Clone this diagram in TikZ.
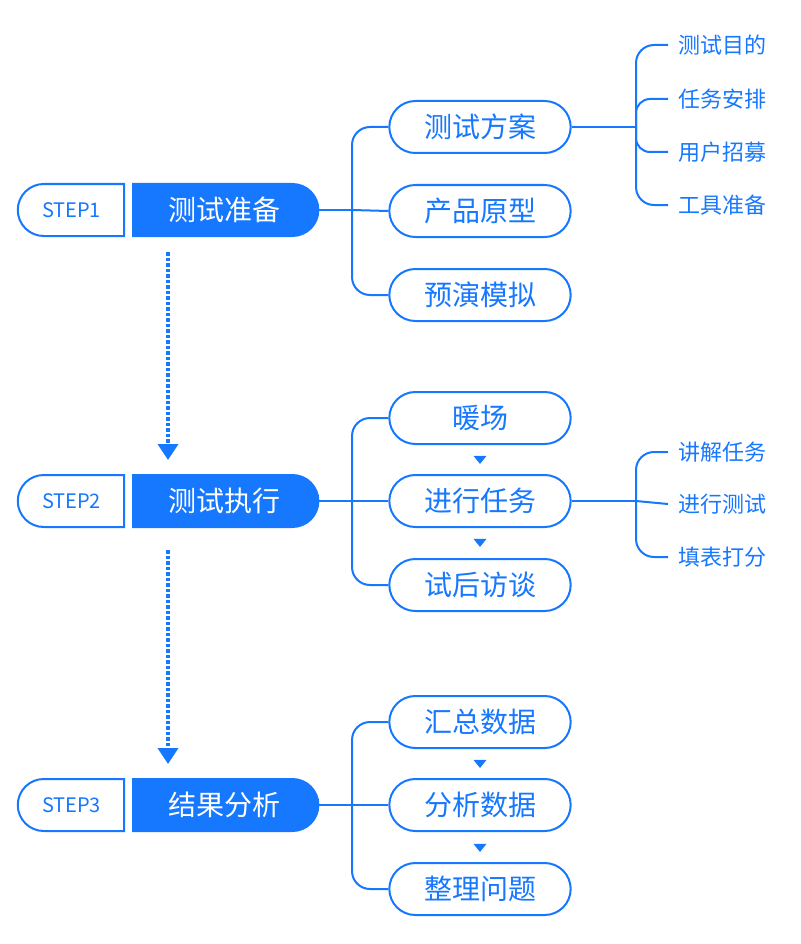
\documentclass[tikz,border=0pt]{standalone}
\usepackage{fontspec}
\setmainfont{Noto Sans CJK SC}
\usetikzlibrary{shapes.misc,shapes.geometric,arrows.meta,positioning}
\definecolor{mainblue}{RGB}{22,119,255}
\tikzset{
    step-tag/.style={
        rounded rectangle, rounded rectangle right arc=none,
        draw=mainblue, fill=white, line width=2pt,
        minimum width=113pt, minimum height=52pt,
        text=mainblue, font=\fontsize{20}{20}\selectfont
    },
    step-title/.style={
        rounded rectangle, rounded rectangle left arc=none,
        draw=mainblue, fill=mainblue, line width=2pt,
        minimum width=192pt, minimum height=52pt,
        text=white, font=\fontsize{28}{28}\selectfont
    },
    sub-point/.style={
        rounded rectangle, draw=mainblue, line width=2pt,
        minimum width=188pt, minimum height=52pt,
        text=mainblue, font=\fontsize{28}{28}\selectfont
    },
    leaf-point/.style={
        anchor=west, inner xsep=10pt, inner ysep=0pt,
        text=mainblue, font=\fontsize{22}{22}\selectfont
    },
    order-mark/.style={
        isosceles triangle, shape border rotate=-90, fill=mainblue,
        inner sep=0pt, minimum width=13pt, minimum height=8pt,
        isosceles triangle stretches
    },
    link/.style={draw=mainblue, line width=2pt},
    hop/.style={draw=mainblue, line width=3.5pt, dotted,
        -{Triangle[length=16pt,width=20pt]}},
}

\begin{document}
\begin{tikzpicture}[x=1pt,y=-1pt]
       \useasboundingbox (0,0) rectangle (800,944);

       % Steps
       \node[step-tag] (s1) at (71.5,210) {STEP1};
       \node[step-title] (t1) at (224,210) {测试准备};
       \node[step-tag] (s2) at (71.5,501) {STEP2};
       \node[step-title] (t2) at (224,501) {测试执行};
       \node[step-tag] (s3) at (71.5,805) {STEP3};
       \node[step-title] (t3) at (224,805) {结果分析};

       % Sub items
       \node[sub-point] (p1) at (480,127) {测试方案};
       \node[sub-point] (p2) at (480,211) {产品原型};
       \node[sub-point] (p3) at (480,295) {预演模拟};
       \node[sub-point] (q1) at (480,418) {暖场};
       \node[sub-point] (q2) at (480,501) {进行任务};
       \node[sub-point] (q3) at (480,585) {试后访谈};
       \node[sub-point] (r1) at (480,722) {汇总数据};
       \node[sub-point] (r2) at (480,805) {分析数据};
       \node[sub-point] (r3) at (480,889) {整理问题};

       \node[order-mark] (m1) at (480,459) {};
       \node[order-mark] (m2) at (480,542) {};
       \node[order-mark] (m3) at (480,763) {};
       \node[order-mark] (m4) at (480,847) {};

       % Leaves
       \node[leaf-point] (l1) at (668,45) {测试目的};
       \node[leaf-point] (l2) at (668,99) {任务安排};
       \node[leaf-point] (l3) at (668,152) {用户招募};
       \node[leaf-point] (l4) at (668,205) {工具准备};
       \node[leaf-point] (k1) at (668,452) {讲解任务};
       \node[leaf-point] (k2) at (668,504) {进行测试};
       \node[leaf-point] (k3) at (668,557) {填表打分};

       \coordinate (j1) at (352,210);
       \coordinate (j2) at (352,501);
       \coordinate (j3) at (352,805);
       \coordinate (e1) at (636,127);
       \coordinate (e2) at (636,501);

       \draw[link] (t1.east) -- (j1);
       \draw[link,rounded corners=18pt] (p1.west) -| (j1) |- (p3.west);
       \draw[link] (j1) -- (p2.west);
       \draw[link] (t2.east) -- (j2);
       \draw[link,rounded corners=18pt] (q1.west) -| (j2) |- (q3.west);
       \draw[link] (j2) -- (q2.west);
       \draw[link] (t3.east) -- (j3);
       \draw[link,rounded corners=18pt] (r1.west) -| (j3) |- (r3.west);
       \draw[link] (j3) -- (r2.west);

       \draw[link] (p1.east) -- (e1);
       \draw[link,rounded corners=18pt] (l1.west) -| (e1) |- (l4.west);
       \draw[link,rounded corners=14pt] (l2.west) -| (e1);
       \draw[link,rounded corners=14pt] (l3.west) -| (e1);
       \draw[link] (q2.east) -- (e2);
       \draw[link,rounded corners=18pt] (k1.west) -| (e2) |- (k3.west);
       \draw[link] (e2) -- (k2.west);

       % Flow between steps
       \coordinate (h1) at (168,252);
       \coordinate (h2) at (168,460);
       \coordinate (h3) at (168,550);
       \coordinate (h4) at (168,764);
       \draw[hop] (h1) -- (h2);
       \draw[hop] (h3) -- (h4);
\end{tikzpicture}
\end{document}
